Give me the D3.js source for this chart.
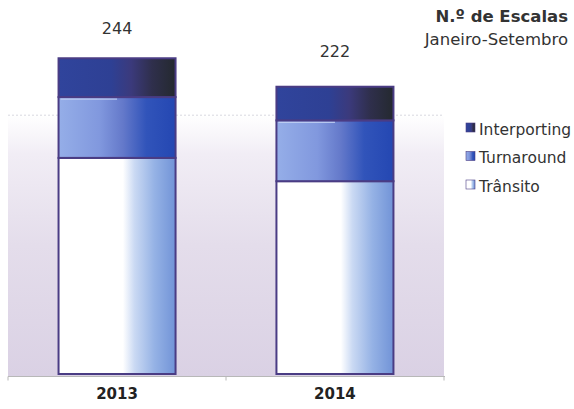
<!DOCTYPE html>
<html>
<head>
<meta charset="utf-8">
<script src="https://cdn.jsdelivr.net/npm/d3@7"></script>
<style>
html,body{margin:0;padding:0;background:#fff;}
svg{display:block;font-family:"DejaVu Sans",Verdana,sans-serif;}
</style>
</head>
<body>
<svg id="chart" width="574" height="409"></svg>
<script>
const categories = ["2013", "2014"];
const seriesNames = ["Trânsito", "Turnaround", "Interporting"];
const transito = [167, 149];
const turnaround = [47, 47];
const interporting = [30, 26];
const totals = [244, 222];
const gridTicks = [200];
const legendOrder = ["Interporting", "Turnaround", "Trânsito"];

const svg = d3.select("#chart");
const defs = svg.append("defs");

const plot = {left: 8, right: 444, top: 50.5, bottom: 374};

const x = d3.scaleBand().domain(categories).range([plot.left, plot.right])
  .paddingInner(0.463).paddingOuter(0.232);
const y = d3.scaleLinear().domain([0, 250]).range([plot.bottom, plot.top]);

// gradients
function hgrad(id, stops) {
  const g = defs.append("linearGradient").attr("id", id)
    .attr("x1", "0%").attr("x2", "100%").attr("y1", "0%").attr("y2", "0%");
  stops.forEach(s => g.append("stop").attr("offset", s[0]).attr("stop-color", s[1]));
}
hgrad("g-inter", [[0, "#30449c"], [0.45, "#2e4094"], [0.62, "#3b3a7c"], [0.8, "#2f2f4c"], [1, "#24292f"]]);
hgrad("g-turn", [[0, "#95aee8"], [0.35, "#8198de"], [0.55, "#6479ca"], [0.75, "#3154ba"], [1, "#2447b2"]]);
hgrad("g-trans", [[0, "#ffffff"], [0.55, "#ffffff"], [0.65, "#cad9f3"], [0.82, "#95b2e5"], [1, "#7193d7"]]);
const bg = defs.append("linearGradient").attr("id", "g-bg")
  .attr("x1", 0).attr("x2", 0).attr("y1", 0).attr("y2", 1);
bg.append("stop").attr("offset", 0).attr("stop-color", "#ffffff");
bg.append("stop").attr("offset", 0.15).attr("stop-color", "#f1edf5");
bg.append("stop").attr("offset", 0.5).attr("stop-color", "#e4ddeb");
bg.append("stop").attr("offset", 1).attr("stop-color", "#dad1e4");

// plot background
svg.append("rect")
  .attr("x", plot.left).attr("y", y(gridTicks[0]))
  .attr("width", plot.right - plot.left).attr("height", plot.bottom + 2 - y(gridTicks[0]))
  .attr("fill", "url(#g-bg)");

// gridline
svg.append("g").selectAll("line").data(gridTicks).join("line")
  .attr("x1", plot.left).attr("x2", plot.right)
  .attr("y1", d => y(d)).attr("y2", d => y(d))
  .attr("stroke", "#d8d8e0").attr("stroke-dasharray", "2,2").attr("stroke-width", 1);

// stacked data
const rows = categories.map((c, i) => ({cat: c, "Trânsito": transito[i], "Turnaround": turnaround[i], "Interporting": interporting[i]}));
const stack = d3.stack().keys(seriesNames)(rows);
const fills = {"Trânsito": "url(#g-trans)", "Turnaround": "url(#g-turn)", "Interporting": "url(#g-inter)"};

svg.append("g").selectAll("g").data(stack).join("g")
  .attr("fill", d => fills[d.key])
  .selectAll("rect").data(d => d).join("rect")
  .attr("x", d => x(d.data.cat))
  .attr("y", d => y(d[1]))
  .attr("width", x.bandwidth())
  .attr("height", d => y(d[0]) - y(d[1]))
  .attr("stroke", "#4a3c84").attr("stroke-width", 2);

// highlight on turnaround tops
svg.append("g").selectAll("line").data(stack[1]).join("line")
  .attr("x1", d => x(d.data.cat) + 2).attr("x2", d => x(d.data.cat) + x.bandwidth() * 0.5)
  .attr("y1", d => y(d[1]) + 2).attr("y2", d => y(d[1]) + 2)
  .attr("stroke", "#c7d6f6").attr("stroke-width", 1.2).attr("opacity", 0.8);

// x axis
const axis = svg.append("g").attr("transform", `translate(0,${plot.bottom + 2.5})`);
axis.append("line").attr("x1", plot.left).attr("x2", plot.right + 1)
  .attr("stroke", "#b8b8b8").attr("stroke-width", 1);
const tickXs = [plot.left, ...categories.slice(1).map(c => x(c) - x.step() * x.paddingInner() / 2), plot.right];
axis.selectAll("line.t").data(tickXs).join("line").attr("class", "t")
  .attr("x1", d => d).attr("x2", d => d).attr("y1", 0).attr("y2", 4)
  .attr("stroke", "#b8b8b8");

svg.append("g").selectAll("text").data(categories).join("text")
  .attr("x", d => x(d) + x.bandwidth() / 2).attr("y", 399)
  .attr("text-anchor", "middle").attr("font-weight", "bold")
  .attr("font-size", 15).attr("fill", "#222").text(d => d);

// totals
const labelGap = [24, 30];
svg.append("g").selectAll("text").data(categories).join("text")
  .attr("x", d => x(d) + x.bandwidth() / 2)
  .attr("y", (d, i) => y(totals[i]) - labelGap[i])
  .attr("text-anchor", "middle").attr("font-size", 16).attr("fill", "#333")
  .text((d, i) => totals[i]);

// title
svg.append("text").attr("x", 568).attr("y", 22).attr("text-anchor", "end")
  .attr("font-weight", "bold").attr("font-size", 16.5).attr("fill", "#333").text("N.º de Escalas");
svg.append("text").attr("x", 568).attr("y", 45).attr("text-anchor", "end")
  .attr("font-size", 16.5).attr("fill", "#333").text("Janeiro-Setembro");

// legend
const legFill = {"Interporting": "url(#g-inter)", "Turnaround": "url(#g-turn)", "Trânsito": "url(#g-trans)"};
const leg = svg.append("g").selectAll("g").data(legendOrder).join("g")
  .attr("transform", (d, i) => `translate(466,${123 + i * 28.5})`);
leg.append("rect").attr("width", 9).attr("height", 9).attr("fill", d => legFill[d])
  .attr("stroke", "#4a3c84").attr("stroke-width", 0.6);
leg.append("text").attr("x", 13).attr("y", 11.5).attr("font-size", 15.5).attr("fill", "#333").text(d => d);
</script>
</body>
</html>
